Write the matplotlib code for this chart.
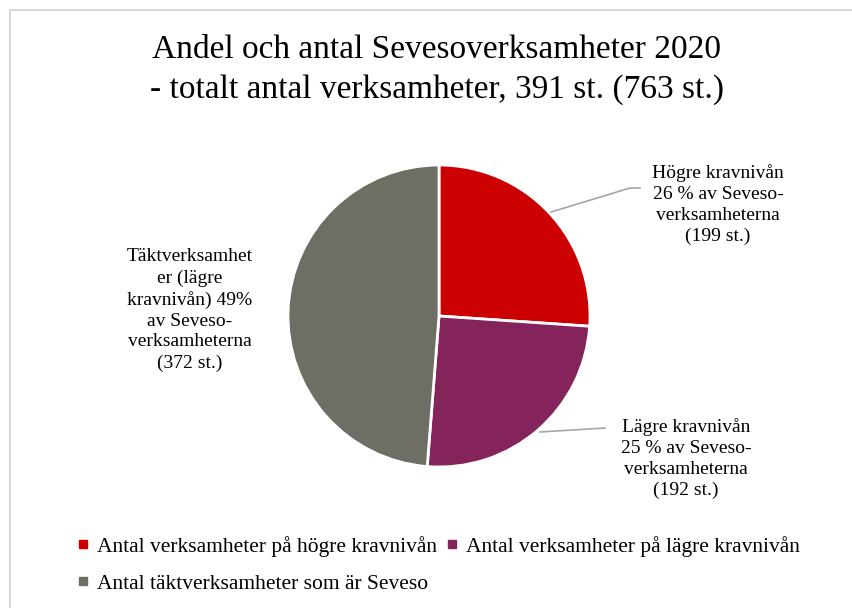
import matplotlib
matplotlib.use("Agg")
import matplotlib.pyplot as plt
from matplotlib.lines import Line2D

categories = ["Antal verksamheter på högre kravnivån",
              "Antal verksamheter på lägre kravnivån",
              "Antal täktverksamheter som är Seveso"]
values = [199, 192, 372]
percent_labels = ["26 %", "25 %", "49%"]
colors = ["#CC0000", "#84245A", "#6E6E65"]
title_lines = ["Andel och antal Sevesoverksamheter 2020",
               "- totalt antal verksamheter, 391 st. (763 st.)"]

plt.rcParams['font.family'] = ['Liberation Serif', 'DejaVu Serif']

W, H = 853, 608
fig = plt.figure(figsize=(W/100, H/100), dpi=100)

# frame (partially cut at right and bottom)
frame = plt.Rectangle((10/W, -0.05), 1.1, (H-10)/H + 0.05, transform=fig.transFigure,
                      fill=False, edgecolor="#D9D9D9", linewidth=1.5)
fig.patches.append(frame)

cx, cy, r = 439, 316, 151
ax = fig.add_axes([(cx-r)/W, (H-cy-r)/H, 2*r/W, 2*r/H])
wedges, _ = ax.pie(values, colors=colors, startangle=90, counterclock=False,
                   wedgeprops=dict(edgecolor="white", linewidth=2))
ax.set_xlim(-1, 1)
ax.set_ylim(-1, 1)
ax.set_aspect('equal')

fig.text(437/W, 1-50/H, title_lines[0], ha='center', va='center', fontsize=24)
fig.text(437/W, 1-90/H, title_lines[1], ha='center', va='center', fontsize=24)

def px(x, y):
    return (x/W, 1-y/H)

lab_fs = 14
# Högre label
fig.text(*px(718, 205), f"Högre kravnivån\n{percent_labels[0]} av Seveso-\nverksamheterna\n({values[0]} st.)",
         ha='center', va='center', fontsize=lab_fs, linespacing=1.3)
fig.add_artist(Line2D([551/W, 630/W, 640/W], [1-212/H, 1-188/H, 1-188/H],
                      color="#A6A6A6", linewidth=1.2))
# Lägre label
fig.text(*px(686, 459), f"Lägre kravnivån\n{percent_labels[1]} av Seveso-\nverksamheterna\n({values[1]} st.)",
         ha='center', va='center', fontsize=lab_fs, linespacing=1.3)
fig.add_artist(Line2D([540/W, 605/W], [1-432/H, 1-428/H],
                      color="#A6A6A6", linewidth=1.2))
# Täkt label
fig.text(*px(190, 310), f"Täktverksamhet\ner (lägre\nkravnivån) {percent_labels[2]}\nav Seveso-\nverksamheterna\n({values[2]} st.)",
         ha='center', va='center', fontsize=lab_fs, linespacing=1.3)

handles = [Line2D([], [], marker='s', linestyle='none', markersize=6,
                  markerfacecolor=c, markeredgecolor=c) for c in colors]
order = [0, 2, 1]
fig.legend([handles[i] for i in order], [categories[i] for i in order],
           ncol=2, loc='upper left', bbox_to_anchor=(68/W, 1-527/H),
           frameon=False, fontsize=15.5, handlelength=0.6, handletextpad=0.35,
           columnspacing=0.4, labelspacing=0.8, borderaxespad=0)

fig.savefig("out.png", dpi=100)
